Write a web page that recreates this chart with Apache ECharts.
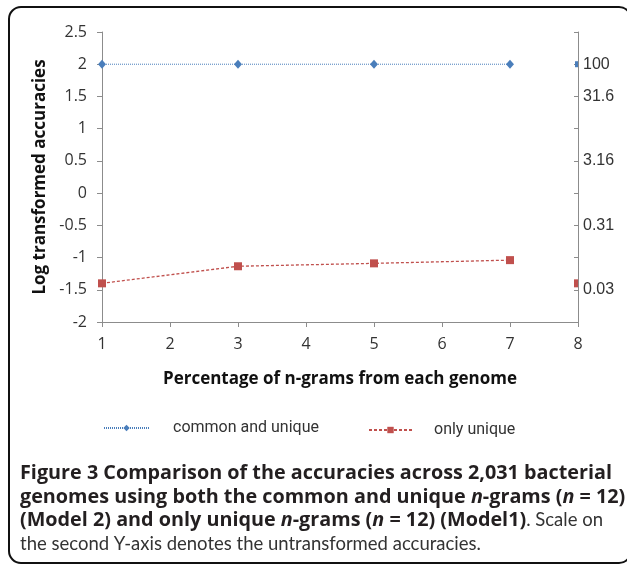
<!DOCTYPE html>
<html>
<head>
<meta charset="utf-8">
<script src="https://cdn.jsdelivr.net/npm/echarts@6/dist/echarts.min.js"></script>
<style>
  html, body { margin: 0; padding: 0; background: #fff; }
  #chart { width: 627px; height: 564px; }
</style>
</head>
<body>
<div id="chart"></div>
<script>
// data
var xPercent = [1, 3, 5, 7];
var commonUnique = [2, 2, 2, 2];
var onlyUnique = [-1.4, -1.135, -1.09, -1.04];
// points drawn against the second axis at x = 8
var secondAxisX = 8;
var commonUnique2 = 2;
var onlyUnique2 = -1.4;
// second y-axis: log value -> untransformed label
var rightTickValues = [2, 1.5, 0.5, -0.5, -1.5];
var rightTickLabels = ['100', '31.6', '3.16', '0.31', '0.03'];

function pairs(xs, ys) {
  return xs.map(function (x, i) { return [x, ys[i]]; });
}

var chart = echarts.init(document.getElementById('chart'));
var axisColor = '#8c8c8c';
var capB = { fontFamily: 'Open Sans', fontWeight: 'bold', fontSize: 19.8, fill: '#231f20' };
var capBI = { fontFamily: 'Open Sans', fontWeight: 'bold', fontStyle: 'italic', fontSize: 19.8, fill: '#231f20' };
var capR = { fontFamily: 'Lato', fontSize: 18.5, fill: '#333' };

var option = {
  backgroundColor: '#fff',
  animation: false,
  grid: { left: 102, right: 49, top: 32, bottom: 242 },
  legend: [
    {
      left: 98, top: 415,
      data: ['common and unique'],
      itemWidth: 45, itemHeight: 8,
      textStyle: { fontFamily: 'Roboto', fontSize: 16, color: '#333', padding: [0, 0, 0, 19] }
    },
    {
      left: 363, top: 417,
      data: ['only unique'],
      itemWidth: 43, itemHeight: 8,
      textStyle: { fontFamily: 'Roboto', fontSize: 16, color: '#333', padding: [0, 0, 0, 17] }
    }
  ],
  xAxis: {
    type: 'value',
    min: 1, max: 8, interval: 1,
    name: 'Percentage of n-grams from each genome',
    nameLocation: 'middle',
    nameGap: 49,
    nameTextStyle: { fontFamily: 'Open Sans', fontWeight: 'bold', fontSize: 17, color: '#111' },
    axisLine: { onZero: false, lineStyle: { color: axisColor } },
    axisTick: { lineStyle: { color: axisColor }, length: 5 },
    axisLabel: { fontFamily: 'Open Sans', fontSize: 16, color: '#333', margin: 14 },
    splitLine: { show: false }
  },
  yAxis: [
    {
      type: 'value',
      min: -2, max: 2.5, interval: 0.5,
      name: 'Log transformed accuracies',
      nameLocation: 'middle',
      nameGap: 52,
      nameTextStyle: { fontFamily: 'Open Sans', fontWeight: 'bold', fontSize: 17, color: '#111' },
      axisLine: { show: true, onZero: false, lineStyle: { color: axisColor } },
      axisTick: { show: true, lineStyle: { color: axisColor }, length: 5 },
      axisLabel: { fontFamily: 'Open Sans', fontSize: 16, color: '#333', margin: 15 },
      splitLine: { show: false }
    },
    {
      type: 'value',
      position: 'right',
      min: -2, max: 2.5, interval: 0.5,
      axisLine: { show: true, onZero: false, lineStyle: { color: axisColor } },
      axisTick: { show: true, inside: true, lineStyle: { color: axisColor }, length: 4 },
      axisLabel: {
        fontFamily: 'Liberation Sans', fontSize: 16, color: '#333', margin: 5,
        formatter: function (v) {
          var i = rightTickValues.indexOf(v);
          return i >= 0 ? rightTickLabels[i] : '';
        }
      },
      splitLine: { show: false }
    }
  ],
  series: [
    {
      name: 'common and unique',
      type: 'line',
      data: pairs(xPercent, commonUnique),
      symbol: 'diamond',
      symbolSize: [8, 9],
      itemStyle: { color: '#4a7ebb' },
      lineStyle: { color: '#4a7ebb', width: 1, type: [1, 1] }
    },
    {
      name: 'only unique',
      type: 'line',
      data: pairs(xPercent, onlyUnique),
      symbol: 'rect',
      symbolSize: 8,
      itemStyle: { color: '#c0504d' },
      lineStyle: { color: '#c0504d', width: 1.3, type: [3, 2] }
    },
    {
      name: 'common and unique (axis 2)',
      type: 'line',
      yAxisIndex: 1,
      data: [[secondAxisX, commonUnique2]],
      symbol: 'rect',
      symbolSize: [3, 6],
      symbolOffset: [-1.5, 0],
      itemStyle: { color: '#4a7ebb' }
    },
    {
      name: 'only unique (axis 2)',
      type: 'line',
      yAxisIndex: 1,
      data: [[secondAxisX, onlyUnique2]],
      symbol: 'rect',
      symbolSize: [4, 8],
      symbolOffset: [-2, 0],
      itemStyle: { color: '#c0504d' }
    }
  ],
  graphic: [
    {
      type: 'rect',
      shape: { x: 9, y: 7, width: 622, height: 556, r: 12 },
      style: { fill: 'none', stroke: '#111', lineWidth: 2 }
    },
    {
      type: 'text', x: 20, y: 473,
      style: {
        text: '{b|Figure 3 Comparison of the accuracies across 2,031 bacterial}',
        verticalAlign: 'middle',
        rich: { b: capB }
      }
    },
    {
      type: 'text', x: 20, y: 497,
      style: {
        text: '{b|genomes using both the common and unique }{bi|n}{b|-grams (}{bi|n}{b| = 12)}',
        verticalAlign: 'middle',
        rich: { b: capB, bi: capBI }
      }
    },
    {
      type: 'text', x: 20, y: 520,
      style: {
        text: '{b|(Model 2) and only unique }{bi|n}{b|-grams (}{bi|n}{b| = 12) (Model1)}{r|. Scale on}',
        verticalAlign: 'middle',
        rich: { b: capB, bi: capBI, r: capR }
      }
    },
    {
      type: 'text', x: 20, y: 544,
      style: {
        text: '{r|the second Y-axis denotes the untransformed accuracies.}',
        verticalAlign: 'middle',
        rich: { r: capR }
      }
    }
  ]
};

chart.setOption(option);
</script>
</body>
</html>
